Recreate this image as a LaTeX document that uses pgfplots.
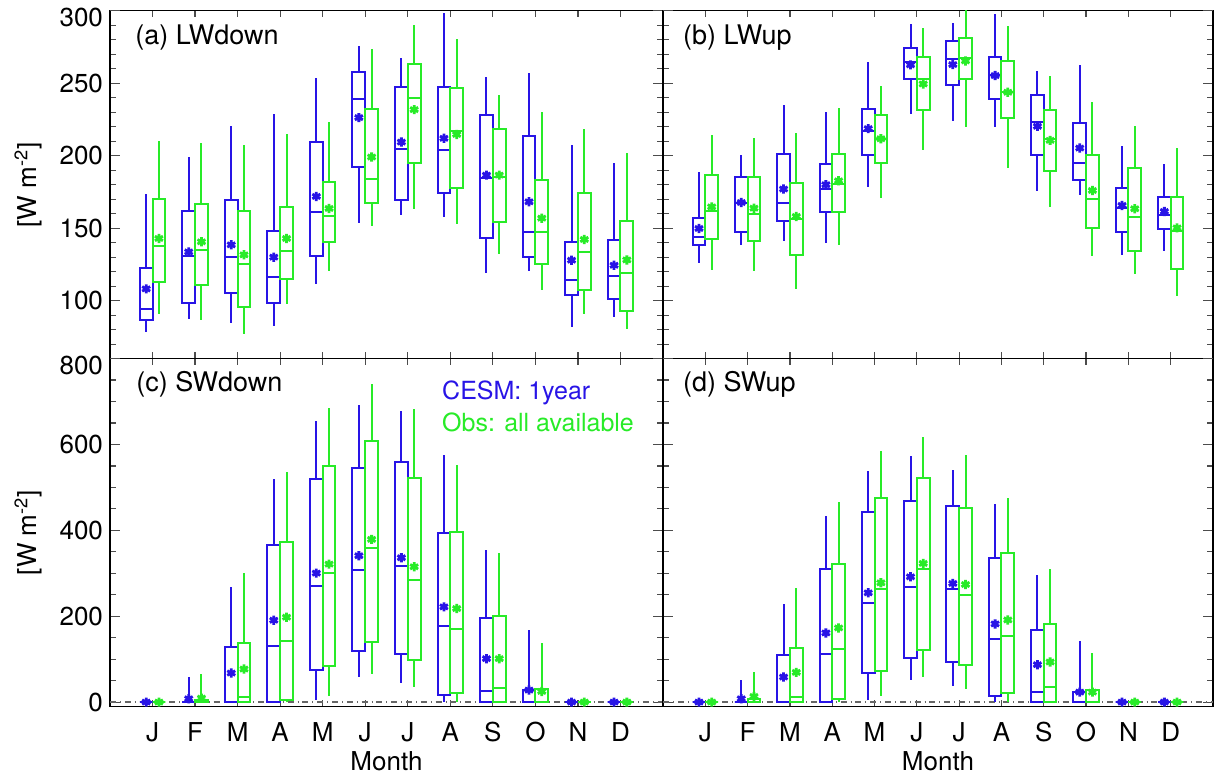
\documentclass[border=0pt]{standalone}
\usepackage{fontspec}
\setmainfont{TeX Gyre Heros}
\usepackage{pgfplots}
\usepackage{pgfplotstable}
\usepgfplotslibrary{statistics}
\pgfplotsset{compat=1.18}
\definecolor{cb}{RGB}{40,20,230}
\definecolor{cg}{RGB}{40,235,40}

% columns: draw position, lower whisker, lower quartile, median, upper quartile, upper whisker, mean
\pgfplotstableread{
pos lw lq med uq uw mean
0.85 78.3 86.9 94.5 122.8 173.7 108.1
1.85 87.3 98.6 131.1 162 198.8 133.6
2.85 84.6 105.1 130.4 169.1 220.7 138.5
3.85 82.5 98.2 116.1 147.9 228.6 130
4.85 111.8 130.6 161.3 209.7 253.4 171.9
5.85 153.9 192.2 239.2 257.6 275.6 226.3
6.85 159 169.1 204.4 247.5 267.5 209.4
7.85 157.8 174.2 203.7 247.2 298.6 212
8.85 118.9 143.5 184.3 228.3 254.1 186.6
9.85 120.3 130.4 147.2 213.6 256.9 168.2
10.85 82 103.7 114.1 140.8 207.6 127.9
11.85 88.7 101.2 117 141.7 194.9 124.4
}\aB
\pgfplotstableread{
pos lw lq med uq uw mean
1.15 90.8 112.7 137.8 169.8 209.9 142.9
2.15 86.4 111.1 135 166.8 209 140.6
3.15 77 95.9 125.1 162 207.1 131.6
4.15 97.7 114.7 134.3 164.7 215.2 142.9
5.15 120.7 140.3 158.3 181.6 223.3 163.6
6.15 151.6 167.5 184.1 232 273.5 199.1
7.15 162.9 194.7 240.1 263.6 290.1 231.8
8.15 153.2 177.9 217 247 280.6 214.7
9.15 132.5 154.6 185.5 218.2 242.2 186.6
10.15 107.4 125.1 147.2 183.4 230.4 156.9
11.15 90.6 107.6 133.6 174 218.7 142.2
12.15 80.6 92.6 119.1 155.1 201.6 128.1
}\aG
\pgfplotstableread{
pos lw lq med uq uw mean
0.85 126.3 138.2 144 156.7 188.9 149.8
1.85 138.2 147.5 167.7 185.2 200.7 167.7
2.85 141 154.8 167.3 200.9 234.8 177
3.85 139.6 161.1 176.7 194.5 230.4 180
4.85 178.6 200.7 217 232.5 264.7 218.7
5.85 228.6 252.8 265 274.4 291 262.7
6.85 224.2 248.6 266.6 279 291.5 262.9
7.85 219.6 239.2 256 268.4 298.1 255.3
8.85 175.8 200.5 223.3 241.9 258.5 220.3
9.85 172.8 183.2 195.2 222.3 262.4 205.3
10.85 131.6 147.5 163.8 177.6 206.9 165.7
11.85 134.1 149.5 159 171.2 194.5 161.5
}\bB
\pgfplotstableread{
pos lw lq med uq uw mean
1.15 121 142.2 162 186.9 214.5 164.7
2.15 120.7 141.2 160.1 185.5 212.4 163.8
3.15 108.1 131.8 156 181.3 215.7 158.1
4.15 138.7 161.3 180.6 200.9 232.9 182.7
5.15 171 195.2 211.5 227.9 247.9 211.7
6.15 203.9 231.8 253.2 268 287.8 249.5
7.15 220 252.8 267.3 281.1 302 265.4
8.15 191.5 225.8 243.8 265.4 289.2 243.8
9.15 164.7 189.2 211.5 231.3 255.1 210.6
10.15 130.9 150 170 200.2 237.3 176
11.15 118.2 134.3 157.8 191.7 220.5 163.4
12.15 103 121.9 147.9 171.2 205.5 150.2
}\bG
\pgfplotstableread{
pos lw lq med uq uw mean
0.85 0 0 0 0 0 0
1.85 0 0 0 0 57.6 7.8
2.85 0 0 0 127.6 267.7 67.7
3.85 0 0 131.5 366.5 519.8 190.7
4.85 3.9 75.5 269.3 519.8 654.5 300.4
5.85 58.4 119.1 308.2 545.5 691 340.9
6.85 44.4 111.3 316.7 558.7 677 336.2
7.85 0 17.1 176.7 393.8 575.9 221.8
8.85 0 0 26.5 196.1 354.9 101.2
9.85 0 0 0 27.2 167.3 28
10.85 0 0 0 0 0 0
11.85 0 0 0 0 0 0
}\cB
\pgfplotstableread{
pos lw lq med uq uw mean
1.15 0 0 0 0 0 0
2.15 0 0 0 5.4 66.1 9.3
3.15 0 0 10.9 138.5 299.6 77
4.15 0 3.9 143.2 372 535.4 197.7
5.15 14.8 83.3 300.4 549.4 684.8 321.4
6.15 65.4 140.1 358.8 607.8 740.8 379
7.15 34.2 97.3 283.3 521.4 682.5 315.2
8.15 0 21.8 170.4 396.1 553.3 217.9
9.15 0 0 31.9 200 346.3 101.2
10.15 0 0 0 30.3 137.7 24.9
11.15 0 0 0 0 0 0
12.15 0 0 0 0 0 0
}\cG
\pgfplotstableread{
pos lw lq med uq uw mean
0.85 0 0 0 0 0 0
1.85 0 0 0 0 50.6 7.8
2.85 0 0 0 109.7 228.8 58.4
3.85 0 0 112.1 309.7 433.5 161.1
4.85 3.9 66.9 231.1 442 537.7 254.5
5.85 51.4 103.5 268.5 468.5 572.8 291.8
6.85 36.6 93.4 263 456.8 540.8 276.3
7.85 0 13.2 147.9 334.6 461.5 182.1
8.85 0 0 23.3 168.9 296.5 87.2
9.85 0 0 0 23.3 141.6 23.3
10.85 0 0 0 0 0 0
11.85 0 0 0 0 0 0
}\dB
\pgfplotstableread{
pos lw lq med uq uw mean
1.15 0 0 0 0 0 0
2.15 0 0 0 7.8 69.3 13.2
3.15 0 0 12.5 125.3 265.4 69.3
4.15 0 7 124.5 322.2 466.1 172.8
5.15 14.8 73.2 262.3 474.7 583.7 277.8
6.15 57.6 121.4 309.7 522.2 616.3 323
7.15 31.1 86.4 249 452.1 576.6 273.9
8.15 0 21 153.3 347.1 476.3 191.4
9.15 0 0 34.2 182.9 310.5 93.4
10.15 0 0 0 28.8 115.2 23.3
11.15 0 0 0 0 0 0
12.15 0 0 0 0 0 0
}\dG

\pgfplotsset{
  panel/.style={
    scale only axis, height=173.9pt,
    xmin=0, xmax=13, xtick={1,...,12},
    axis line style={black, line width=0.7pt},
    tick style={black!70, line width=0.6pt},
    ytick style={/pgfplots/major tick length=5pt, /pgfplots/minor tick length=3pt},
    xtick style={/pgfplots/major tick length=3.3pt},
    extra y tick style={/pgfplots/major tick length=5pt, yticklabel style={yshift=-3.3pt}},
    tick label style={font=\fontsize{13}{15}\selectfont},
    /pgf/number format/assume math mode=true,
    label style={font=\fontsize{13}{15}\selectfont},
    boxplot/draw direction=y,
    boxplot/box extend=0.3,
    boxplot/whisker extend=0,
  },
  toprow/.style={ymin=60, ymax=300, ytick={100,150,...,250}, extra y ticks={300},
    minor ytick={60,70,...,290}, xticklabels={}},
  botrow/.style={ymin=-10, ymax=800, ytick={0,200,...,600}, extra y ticks={800},
    minor ytick={50,100,150,250,300,350,450,500,550,650,700,750},
    xticklabels={J,F,M,A,M,J,J,A,S,O,N,D}, xlabel={Month},
    xticklabel style={anchor=base, yshift=-17.5pt},
    xlabel style={at={(axis description cs:0.5,-0.159)}, anchor=center}},
  leftcol/.style={width=276.5pt, ylabel={[W m\textsuperscript{-2}]},
    ylabel style={at={(axis description cs:-0.148,0.5)}, anchor=center}},
  rightcol/.style={width=275pt, yticklabels={}, extra y tick labels={}},
  bxb/.style={cb, line width=1pt},
  bxg/.style={cg, line width=1pt},
  mnb/.style={cb, only marks, mark=asterisk, mark size=2.3pt, line width=1.4pt},
  mng/.style={cg, only marks, mark=asterisk, mark size=2.3pt, line width=1.4pt},
  zline/.style={black!60, dash dot, line width=0.7pt},
}
\newcommand{\ttl}{\fontsize{13.5}{15}\selectfont}

% draw one prepared box from row #2 of table #1 with style #3
\newcommand{\boxrow}[3]{%
  \pgfplotstablegetelem{#2}{pos}\of#1\let\vpos\pgfplotsretval
  \pgfplotstablegetelem{#2}{lw}\of#1\let\vlw\pgfplotsretval
  \pgfplotstablegetelem{#2}{lq}\of#1\let\vlq\pgfplotsretval
  \pgfplotstablegetelem{#2}{med}\of#1\let\vmed\pgfplotsretval
  \pgfplotstablegetelem{#2}{uq}\of#1\let\vuq\pgfplotsretval
  \pgfplotstablegetelem{#2}{uw}\of#1\let\vuw\pgfplotsretval
  \edef\tmpbox{\noexpand\addplot[#3, boxplot prepared={draw direction=y, draw position=\vpos, lower whisker=\vlw, lower quartile=\vlq, median=\vmed, upper quartile=\vuq, upper whisker=\vuw}] coordinates {};}%
  \tmpbox
}

\begin{document}
\begin{tikzpicture}
\path[use as bounding box] (0,0) rectangle (607pt,389pt);

% (a)
\begin{axis}[panel, toprow, leftcol, at={(55pt,209.7pt)}, anchor=south west]
\pgfplotsinvokeforeach{0,...,11}{\boxrow{\aB}{#1}{bxb}\boxrow{\aG}{#1}{bxg}}
\addplot[mnb] table[x=pos, y=mean] {\aB};
\addplot[mng] table[x=pos, y=mean] {\aG};
\node[anchor=west, inner sep=0, font=\ttl] at (rel axis cs:0.045,0.923) {(a) LWdown};
\end{axis}

% (b)
\begin{axis}[panel, toprow, rightcol, at={(331.5pt,209.7pt)}, anchor=south west]
\pgfplotsinvokeforeach{0,...,11}{\boxrow{\bB}{#1}{bxb}\boxrow{\bG}{#1}{bxg}}
\addplot[mnb] table[x=pos, y=mean] {\bB};
\addplot[mng] table[x=pos, y=mean] {\bG};
\node[anchor=west, inner sep=0, font=\ttl] at (rel axis cs:0.036,0.923) {(b) LWup};
\end{axis}

% (c)
\begin{axis}[panel, botrow, leftcol, at={(55pt,35.8pt)}, anchor=south west]
\addplot[zline] coordinates {(0,0) (13,0)};
\pgfplotsinvokeforeach{0,...,11}{\boxrow{\cB}{#1}{bxb}\boxrow{\cG}{#1}{bxg}}
\addplot[mnb] table[x=pos, y=mean] {\cB};
\addplot[mng] table[x=pos, y=mean] {\cG};
\node[anchor=west, inner sep=0, font=\ttl] at (rel axis cs:0.047,0.925) {(c) SWdown};
\node[anchor=west, inner sep=0, text=cb, font=\fontsize{12.5}{14}\selectfont] at (rel axis cs:0.600,0.902) {CESM: 1year};
\node[anchor=west, inner sep=0, text=cg, font=\fontsize{12.5}{14}\selectfont] at (rel axis cs:0.600,0.817) {Obs: all available};
\end{axis}

% (d)
\begin{axis}[panel, botrow, rightcol, at={(331.5pt,35.8pt)}, anchor=south west]
\addplot[zline] coordinates {(0,0) (13,0)};
\pgfplotsinvokeforeach{0,...,11}{\boxrow{\dB}{#1}{bxb}\boxrow{\dG}{#1}{bxg}}
\addplot[mnb] table[x=pos, y=mean] {\dB};
\addplot[mng] table[x=pos, y=mean] {\dG};
\node[anchor=west, inner sep=0, font=\ttl] at (rel axis cs:0.036,0.925) {(d) SWup};
\end{axis}
\end{tikzpicture}
\end{document}
